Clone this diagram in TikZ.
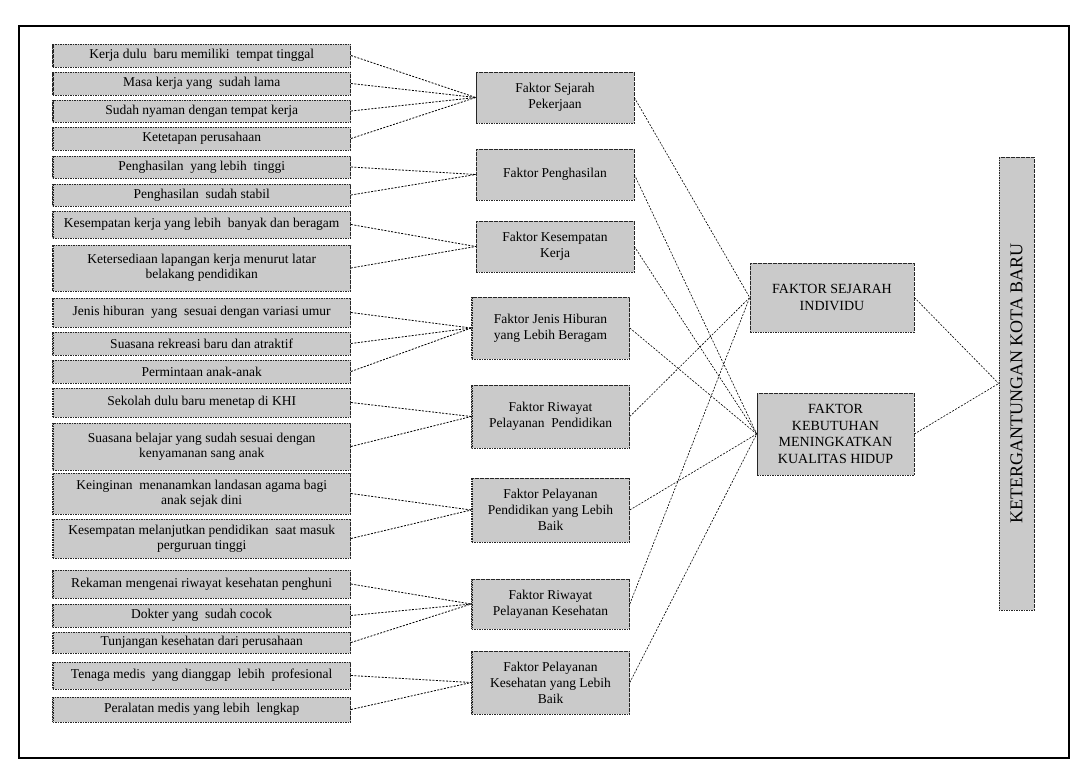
\documentclass[tikz,border=0pt]{standalone}
\usepackage{fontspec}
\setmainfont{LiberationSerif}[Extension=.ttf, UprightFont=*-Regular, BoldFont=*-Bold]
\usetikzlibrary{positioning}
\definecolor{boxFill}{HTML}{CACACA}

\begin{document}
\begin{tikzpicture}[x=1pt, y=-1pt,
          base/.style={draw=black!85, dash pattern=on 1.6pt off 0.9pt, line width=0.6pt, fill=boxFill, align=center, inner sep=2pt,
            path picture={\draw[line width=2.4pt] (path picture bounding box.north west) -- (path picture bounding box.south west);}},
          item/.style={base, minimum width=298pt, font=\fontsize{13.5}{15}\selectfont},
          factor/.style={base, minimum width=158pt, font=\fontsize{13.5}{16}\selectfont},
          group/.style={base, font=\fontsize{14}{16.7}\selectfont},
          link/.style={black, line width=0.8pt, dash pattern=on 2pt off 1.4pt}]
        \useasboundingbox (0,0) rectangle (1083,765);
        \draw[line width=1.6pt] (19,26) rectangle (1069,758);
        % left column
        \node[item, minimum height=23pt] (l1) at (201.7,55.5) {Kerja dulu \ baru memiliki \ tempat tinggal};
        \node[item, minimum height=23pt] (l2) at (201.7,83.5) {Masa kerja yang \ sudah lama};
        \node[item, minimum height=22pt] (l3) at (201.7,111) {Sudah nyaman dengan tempat kerja};
        \node[item, minimum height=23pt] (l4) at (201.7,138.5) {Ketetapan perusahaan};
        \node[item, minimum height=22pt] (l5) at (201.7,167) {Penghasilan \ yang lebih \ tinggi};
        \node[item, minimum height=22pt] (l6) at (201.7,195) {Penghasilan \ sudah stabil};
        \node[item, minimum height=27pt] (l7) at (201.7,224.5) {Kesempatan kerja yang lebih \ banyak dan beragam};
        \node[item, minimum height=46pt] (l8) at (201.7,268) {Ketersediaan lapangan kerja menurut latar\\belakang pendidikan};
        \node[item, minimum height=29pt] (l9) at (201.7,312.5) {Jenis hiburan \ yang \ sesuai dengan variasi umur};
        \node[item, minimum height=23pt] (l10) at (201.7,343.5) {Suasana rekreasi baru dan atraktif};
        \node[item, minimum height=23pt] (l11) at (201.7,371.5) {Permintaan anak-anak};
        \node[item, minimum height=29pt] (l12) at (201.7,402.5) {Sekolah dulu baru menetap di KHI};
        \node[item, minimum height=47pt] (l13) at (201.7,446.5) {Suasana belajar yang sudah sesuai dengan\\kenyamanan sang anak};
        \node[item, minimum height=41pt] (l14) at (201.7,493.5) {Keinginan \ menanamkan landasan agama bagi\\anak sejak dini};
        \node[item, minimum height=39pt] (l15) at (201.7,538.5) {Kesempatan melanjutkan pendidikan \ saat masuk\\perguruan tinggi};
        \node[item, minimum height=28pt] (l16) at (201.7,584) {Rekaman mengenai riwayat kesehatan penghuni};
        \node[item, minimum height=23pt] (l17) at (201.7,615.5) {Dokter yang \ sudah cocok};
        \node[item, minimum height=21pt] (l18) at (201.7,642.5) {Tunjangan kesehatan dari perusahaan};
        \node[item, minimum height=27pt] (l19) at (201.7,675.5) {Tenaga medis \ yang dianggap \ lebih \ profesional};
        \node[item, minimum height=25pt] (l20) at (201.7,709.5) {Peralatan medis yang lebih \ lengkap};
        % middle column
        \node[factor, minimum height=51pt] (f1) at (555,97.5) {Faktor Sejarah\\Pekerjaan};
        \node[factor, minimum height=51pt] (f2) at (555,174.5) {Faktor Penghasilan};
        \node[factor, minimum height=51pt] (f3) at (555,246.5) {Faktor Kesempatan\\Kerja};
        \node[factor, minimum height=62pt] (f4) at (550.5,328) {Faktor Jenis Hiburan\\yang Lebih Beragam};
        \node[factor, minimum height=63pt] (f5) at (550.5,416.5) {Faktor Riwayat\\Pelayanan \ Pendidikan};
        \node[factor, minimum height=64pt] (f6) at (550.5,510) {Faktor Pelayanan\\Pendidikan yang Lebih\\Baik};
        \node[factor, minimum height=50pt] (f7) at (550.5,604) {Faktor Riwayat\\Pelayanan Kesehatan};
        \node[factor, minimum height=63pt] (f8) at (550.5,682.5) {Faktor Pelayanan\\Kesehatan yang Lebih\\Baik};
        % right column
        \node[group, minimum width=164pt, minimum height=69pt] (s) at (832,297.5) {FAKTOR SEJARAH\\INDIVIDU};
        \node[group, minimum width=157pt, minimum height=82pt] (k) at (835.5,434) {FAKTOR\\KEBUTUHAN\\MENINGKATKAN\\KUALITAS HIDUP};
        \node[base, rotate=90, minimum width=453pt, minimum height=35pt, font=\fontsize{18}{20}\selectfont] (t) at (1016.5,383.5) {KETERGANTUNGAN KOTA BARU};
        % left to middle
        \draw[link] (l1.east) -- (f1.west);
        \draw[link] (l2.east) -- (f1.west);
        \draw[link] (l3.east) -- (f1.west);
        \draw[link] (l4.east) -- (f1.west);
        \draw[link] (l5.east) -- (f2.west);
        \draw[link] (l6.east) -- (f2.west);
        \draw[link] (l7.east) -- (f3.west);
        \draw[link] (l8.east) -- (f3.west);
        \draw[link] (l9.east) -- (f4.west);
        \draw[link] (l10.east) -- (f4.west);
        \draw[link] (l11.east) -- (f4.west);
        \draw[link] (l12.east) -- (f5.west);
        \draw[link] (l13.east) -- (f5.west);
        \draw[link] (l14.east) -- (f6.west);
        \draw[link] (l15.east) -- (f6.west);
        \draw[link] (l16.east) -- (f7.west);
        \draw[link] (l17.east) -- (f7.west);
        \draw[link] (l18.east) -- (f7.west);
        \draw[link] (l19.east) -- (f8.west);
        \draw[link] (l20.east) -- (f8.west);
        % middle to right
        \draw[link, line width=0.6pt] (f1.east) -- (s.west);
        \draw[link, line width=0.6pt] (f2.east) -- (k.west);
        \draw[link, line width=0.6pt] (f3.east) -- (k.west);
        \draw[link, line width=0.6pt] (f4.east) -- (k.west);
        \draw[link, line width=0.6pt] (f5.east) -- (s.west);
        \draw[link, line width=0.6pt] (f6.east) -- (k.west);
        \draw[link, line width=0.6pt] (f7.east) -- (s.west);
        \draw[link, line width=0.6pt] (f8.east) -- (k.west);
        \draw[link, line width=0.6pt] (s.east) -- (t.north);
        \draw[link, line width=0.6pt] (k.east) -- (t.north);
      \end{tikzpicture}
\end{document}
